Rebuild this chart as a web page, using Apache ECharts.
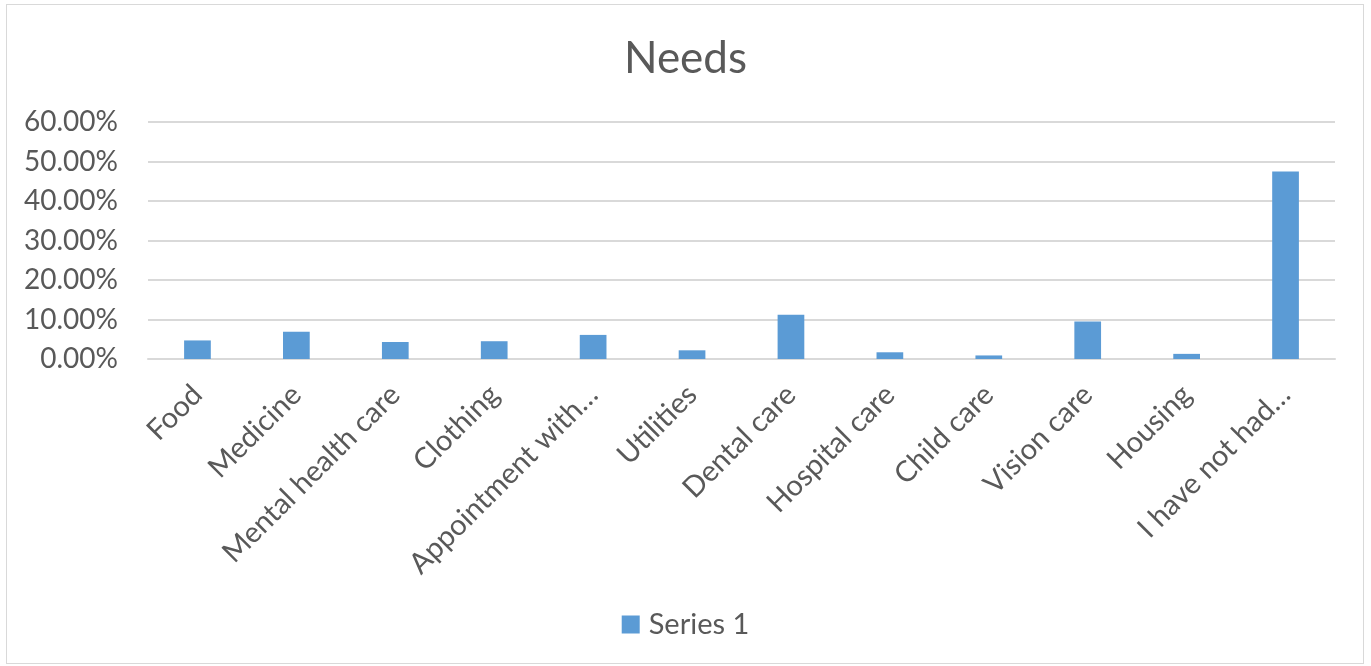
<!DOCTYPE html>
<html>
<head>
<meta charset="utf-8">
<script src="https://cdn.jsdelivr.net/npm/echarts@6/dist/echarts.min.js"></script>
<style>
  html, body { margin: 0; padding: 0; background: #fff; }
  #frame { position: absolute; left: 6px; top: 4px; width: 1358px; height: 660px; border: 1px solid #d9d9d9; box-sizing: border-box; }
  #chart { position: absolute; left: 0; top: 0; width: 1371px; height: 666px; }
</style>
</head>
<body>
<div id="frame"></div>
<div id="chart"></div>
<script>
// Share of respondents reporting each unmet need
const categories = [
  'Food', 'Medicine', 'Mental health care', 'Clothing', 'Appointment with…',
  'Utilities', 'Dental care', 'Hospital care', 'Child care', 'Vision care',
  'Housing', 'I have not had…'
];
const seriesName = 'Series 1';
const values = [4.7, 6.9, 4.3, 4.5, 6.1, 2.2, 11.2, 1.7, 0.9, 9.5, 1.3, 47.5];
const yTicks = { min: 0, max: 60, interval: 10 };

const textColor = '#595959';
const font = 'Lato, "Open Sans", sans-serif';

const chart = echarts.init(document.getElementById('chart'));
chart.setOption({
  animation: false,
  title: {
    text: 'Needs',
    left: 'center',
    top: 32,
    textStyle: { fontFamily: font, fontSize: 44, fontWeight: 'normal', color: textColor }
  },
  legend: {
    bottom: 22,
    left: 'center',
    itemWidth: 18,
    itemHeight: 18,
    itemGap: 10,
    icon: 'rect',
    textStyle: { fontFamily: font, fontSize: 29, color: textColor, padding: [0, 0, 0, 4] },
    data: [seriesName]
  },
  grid: { left: 148, right: 36, top: 122, bottom: 307 },
  xAxis: {
    type: 'category',
    data: categories,
    axisLine: { lineStyle: { color: '#d9d9d9', width: 2 } },
    axisTick: { show: false },
    axisLabel: {
      rotate: 45,
      interval: 0,
      margin: 31,
      fontFamily: font,
      fontSize: 29,
      color: textColor
    }
  },
  yAxis: {
    type: 'value',
    min: yTicks.min,
    max: yTicks.max,
    interval: yTicks.interval,
    axisLine: { show: false },
    axisTick: { show: false },
    splitLine: { lineStyle: { color: '#d9d9d9', width: 2 } },
    axisLabel: {
      margin: 30,
      fontFamily: font,
      fontSize: 28,
      color: textColor,
      formatter: v => v.toFixed(2) + '%'
    }
  },
  series: [{
    name: seriesName,
    type: 'bar',
    data: values,
    barWidth: '27%',
    itemStyle: { color: '#5b9bd5' }
  }]
});
</script>
</body>
</html>
